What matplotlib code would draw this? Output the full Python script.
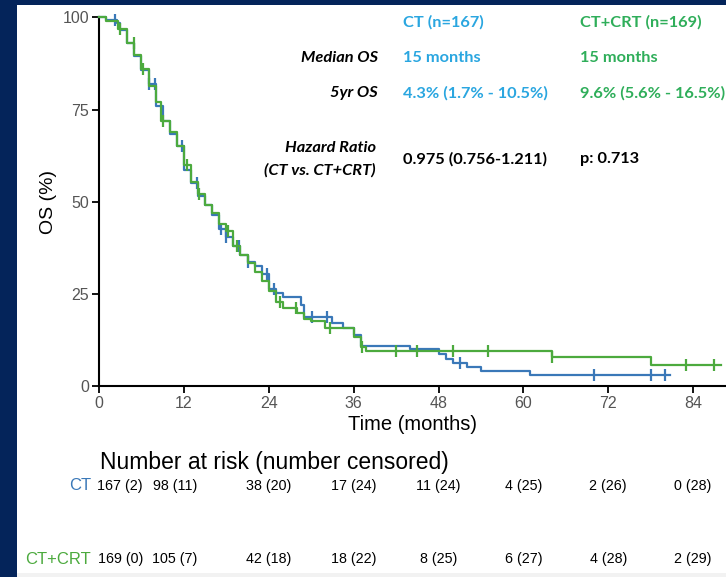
import numpy as np
import matplotlib.pyplot as plt
from matplotlib.patches import Rectangle

# Kaplan-Meier curves (step levels)
ct_time = [0, 1, 2.5, 3, 4, 5, 6, 7, 8, 9, 10, 11, 12, 13, 14, 15, 16, 17, 18, 19, 20,
           21, 22, 23, 24, 25, 26, 28.5, 29, 33, 34.5, 36, 37, 44, 48, 49, 50, 52, 54, 61, 80.7]
ct_surv = [100, 99.4, 98.4, 96.5, 93, 89.5, 85.7, 82, 76, 72, 68.5, 65, 58.5, 55, 51.5, 49,
           46.5, 42.5, 40.5, 38, 35.5, 33.6, 32.5, 30.5, 26.5, 25.3, 24.2, 22, 18.7, 17.1,
           15.8, 13.8, 10.9, 10.0, 8.7, 7.4, 6.4, 5.2, 4.2, 3.0, 3.0]
ct_cens = [2.2, 7, 7.9, 11.8, 13.8, 17.3, 18, 19.8, 21.1, 23.7, 24.7, 30.1, 32.2,
           51, 70, 78, 80]

crt_time = [0, 1, 2.7, 4, 5, 6, 7, 8, 8.7, 10, 11, 12, 13, 14, 15, 16, 17, 18, 19, 20,
            21, 22, 23, 24, 25, 26, 28, 29, 30, 32, 36, 37, 37.8, 64, 78, 88]
crt_surv = [100, 99, 96.7, 93, 89.8, 86, 81.5, 77, 72, 69, 65, 60, 55.5, 52, 49, 47, 44,
            42, 38, 35.6, 33.5, 31, 28.5, 25.8, 22.9, 21.1, 19.8, 18.3, 17.6, 15.7, 13.3,
            10.6, 9.5, 8.0, 5.9, 5.9]
crt_cens = [2.9, 4.9, 6.2, 9, 12.4, 14.2, 18.3, 19.5, 25.6, 27.9, 32.7, 37.2,
            42, 45, 50, 55, 64, 83, 87]

# Number at risk table
risk_ct = ['167 (2)', '98 (11)', '38 (20)', '17 (24)', '11 (24)', '4 (25)', '2 (26)', '0 (28)']
risk_crt = ['169 (0)', '105 (7)', '42 (18)', '18 (22)', '8 (25)', '6 (27)', '4 (28)', '2 (29)']
x_ticks = [0, 12, 24, 36, 48, 60, 72, 84]
y_ticks = [0, 25, 50, 75, 100]

blue = '#3a78b8'
green = '#4caa3e'
txt_blue = '#2aa6e0'
txt_green = '#2fae5a'
navy = '#04245a'

plt.rcParams['font.family'] = ['Liberation Sans', 'DejaVu Sans']

fig = plt.figure(figsize=(7.26, 5.77), dpi=100, facecolor=navy)
fig.patches.append(Rectangle((17 / 726, 0), 1, (577 - 5) / 577, transform=fig.transFigure,
                             facecolor='white', edgecolor='none', zorder=-2))
fig.patches.append(Rectangle((17 / 726, 0), 1, 4 / 577, transform=fig.transFigure,
                             facecolor='#f2f2f2', edgecolor='none', zorder=-1))

ax = fig.add_axes([99 / 726, (577 - 386.3) / 577, (725 - 99) / 726, 369 / 577])
ax.set_facecolor('none')


def step_at(times, surv, t):
    i = np.searchsorted(times, t, side='right') - 1
    return np.asarray(surv)[i]


for times, surv, cens, col in [(ct_time, ct_surv, ct_cens, blue),
                               (crt_time, crt_surv, crt_cens, green)]:
    ax.step(times, surv, where='post', color=col, lw=1.6, clip_on=False, zorder=3)
    ax.plot(cens, step_at(times, surv, cens), ls='none', marker='|', ms=9, mew=1.6,
            color=col, clip_on=False, zorder=3)

ax.set_xlim(0, 88.5)
ax.set_ylim(0, 100)
ax.set_xticks(x_ticks)
ax.set_yticks(y_ticks)
for s in ['top', 'right']:
    ax.spines[s].set_visible(False)
for s in ['left', 'bottom']:
    ax.spines[s].set_linewidth(1.5)
ax.tick_params(width=1.3, length=5, labelsize=11.5, labelcolor='#555555', pad=2)
ax.set_xlabel('Time (months)', fontsize=14.5, labelpad=3)
ax.set_ylabel('OS (%)', fontsize=14, labelpad=4)

# annotation block
fa = ['Lato', 'DejaVu Sans']


def px(x, y):
    return x / 726, 1 - y / 577


kw = dict(family=fa, fontweight='bold', fontsize=11.8, va='center')
fig.text(*px(403, 22), 'CT (n=167)', color=txt_blue, **kw)
fig.text(*px(580, 22), 'CT+CRT (n=169)', color=txt_green, **kw)
fig.text(*px(378, 58), 'Median OS', color='black', ha='right', style='italic', **kw)
fig.text(*px(403, 58), '15 months', color=txt_blue, **kw)
fig.text(*px(580, 58), '15 months', color=txt_green, **kw)
fig.text(*px(378, 93), '5yr OS', color='black', ha='right', style='italic', **kw)
fig.text(*px(403, 93), '4.3% (1.7% - 10.5%)', color=txt_blue, **kw)
fig.text(*px(580, 93), '9.6% (5.6% - 16.5%)', color=txt_green, **kw)
fig.text(*px(376, 148), 'Hazard Ratio', color='black', ha='right', style='italic', **kw)
fig.text(*px(376, 170), '(CT vs. CT+CRT)', color='black', ha='right', style='italic', **kw)
fig.text(*px(403, 159), '0.975 (0.756-1.211)', color='black', **kw)
fig.text(*px(580, 159), 'p: 0.713', color='black', **kw)

# number at risk
fig.text(*px(100, 463), 'Number at risk (number censored)', fontsize=16.5, va='center')
col_x = [3.0, 10.75] + x_ticks[2:]
for row, lab, col, y in [(risk_ct, 'CT', blue, 486), (risk_crt, 'CT+CRT', green, 559)]:
    fig.text(*px(91, y), lab, color=col, fontsize=12, ha='right', va='center')
    for xv, s in zip(col_x, row):
        xf = ax.transData.transform((xv, 0))[0] / fig.bbox.width
        fig.text(xf, 1 - y / 577, s, fontsize=10.3, ha='center', va='center')

fig.savefig('out.png', dpi=100, facecolor=fig.get_facecolor())
